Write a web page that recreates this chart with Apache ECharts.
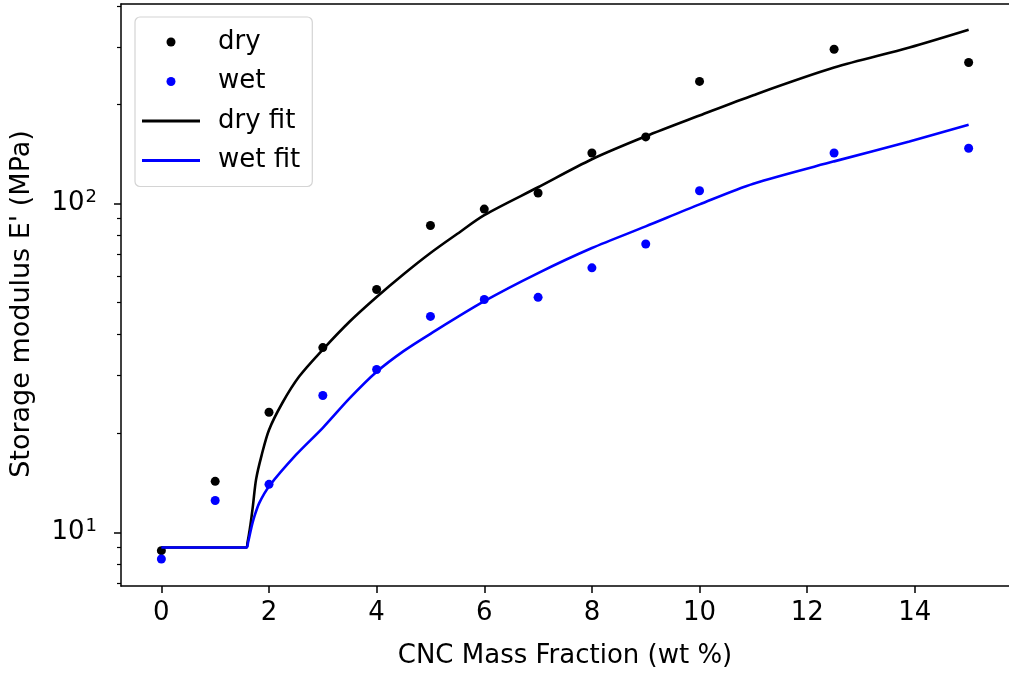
<!DOCTYPE html>
<html>
<head>
<meta charset="utf-8">
<script src="https://cdn.jsdelivr.net/npm/echarts@6/dist/echarts.min.js"></script>
<style>
  html, body { margin: 0; padding: 0; background: #ffffff; }
  #chart { width: 1009px; height: 674px; }
</style>
</head>
<body>
<div id="chart"></div>
<script>
// Measured storage modulus (MPa) against CNC loading (wt %)
const massFraction = [0, 1, 2, 3, 4, 5, 6, 7, 8, 9, 10, 12.5, 15];
const dryModulus = [8.8, 14.3, 23.2, 36.5, 54.8, 85.8, 96.3, 107.8, 142.6, 159.6, 235.5, 295, 268.9];
const wetModulus = [8.3, 12.5, 14.0, 26.1, 31.3, 45.4, 51.1, 51.9, 63.8, 75.4, 109.5, 142.6, 147.5];

// Percolation-model fit curves
const dryFitX = [0, 1.58, 1.60, 1.62, 1.65, 1.70, 1.76, 1.86, 2.0, 2.25, 2.56, 3.0, 3.5, 4.0, 4.5, 5.0, 5.5, 6.0, 7.0, 8.0, 9.0, 10.0, 11.0, 12.5, 13.9, 15];
const dryFitY = [9.0, 9.0, 9.3, 9.7, 10.4, 12.0, 14.5, 17.1, 20.5, 24.8, 29.8, 36.0, 43.8, 52.0, 61.0, 70.8, 81.0, 92.3, 112.2, 136.5, 160.3, 185.4, 213.8, 259.4, 298.5, 338];
const wetFitX = [0, 1.58, 1.61, 1.67, 1.73, 1.82, 2.0, 2.5, 3.0, 3.5, 4.0, 4.5, 5.0, 6.0, 7.0, 8.0, 9.0, 10.0, 11.0, 12.5, 13.9, 15];
const wetFitY = [9.0, 9.0, 9.3, 10.3, 11.2, 12.3, 13.8, 17.2, 20.8, 25.6, 30.8, 35.6, 40.2, 50.5, 61.5, 73.3, 85.3, 99.5, 115.0, 134.5, 154.6, 173.8];

// Axis ticks
const xTicks = [0, 2, 4, 6, 8, 10, 12, 14];
const yMajorTicks = [10, 100];
const yMinorTicks = [7, 8, 9, 20, 30, 40, 50, 60, 70, 80, 90, 200, 300, 400];

const FONT = 'DejaVu Sans';
const FS = 26;
const X_MIN = -0.75, X_MAX = 15.75;
const Y_MIN = 6.87, Y_MAX = 405;

const pairs = (xs, ys) => xs.map((x, i) => [x, ys[i]]);

const chart = echarts.init(document.getElementById('chart'), null, { renderer: 'canvas' });

chart.setOption({
  backgroundColor: '#ffffff',
  animation: false,
  grid: { left: 121, top: 4, right: -8, bottom: 87, containLabel: false },
  legend: {
    orient: 'vertical',
    left: 135,
    top: 17,
    padding: [10, 12, 11, 7],
    itemWidth: 58,
    itemHeight: 9,
    itemGap: 9.5,
    backgroundColor: '#ffffff',
    borderColor: '#d4d4d4',
    borderWidth: 1.2,
    borderRadius: 5,
    selectedMode: false,
    textStyle: { fontFamily: FONT, fontSize: FS, color: '#000', lineHeight: 30, padding: [0, 0, 0, 13] },
    data: [
      { name: 'dry', icon: 'circle' },
      { name: 'wet', icon: 'circle' },
      { name: 'dry fit', icon: 'path://M0,0H58V3H0Z' },
      { name: 'wet fit', icon: 'path://M0,0H58V3H0Z' }
    ]
  },
  xAxis: [
    {
      type: 'value',
      position: 'bottom',
      min: X_MIN, max: X_MAX,
      name: 'CNC Mass Fraction (wt %)',
      nameLocation: 'middle',
      nameGap: 57,
      nameTextStyle: { fontFamily: FONT, fontSize: FS, color: '#000' },
      axisLine: { show: true, onZero: false, lineStyle: { color: '#000', width: 1.5 } },
      axisTick: { show: true, length: 7, lineStyle: { color: '#000', width: 1.5 }, customValues: xTicks },
      axisLabel: { show: true, margin: 14, fontFamily: FONT, fontSize: FS, color: '#000', customValues: xTicks },
      splitLine: { show: false }
    },
    {
      type: 'value',
      position: 'top',
      min: X_MIN, max: X_MAX,
      axisLine: { show: true, onZero: false, lineStyle: { color: '#000', width: 1.5 } },
      axisTick: { show: false },
      axisLabel: { show: false },
      splitLine: { show: false }
    }
  ],
  yAxis: [
    {
      type: 'log',
      logBase: 10,
      position: 'left',
      min: Y_MIN, max: Y_MAX,
      name: "Storage modulus E' (MPa)",
      nameLocation: 'middle',
      nameGap: 86,
      nameTextStyle: { fontFamily: FONT, fontSize: 27, color: '#000', padding: [0, 18, 0, 0] },
      axisLine: { show: true, onZero: false, lineStyle: { color: '#000', width: 1.5 } },
      axisTick: { show: true, length: 7, lineStyle: { color: '#000', width: 1.5 }, customValues: yMajorTicks },
      axisLabel: {
        show: true,
        margin: 24,
        customValues: yMajorTicks,
        formatter: v => '{b|10}{s|' + Math.round(Math.log10(v)) + '}',
        rich: {
          b: { fontFamily: FONT, fontSize: FS, color: '#000' },
          s: { fontFamily: FONT, fontSize: 18, color: '#000', padding: [0, 0, 12, 1] }
        }
      },
      splitLine: { show: false }
    },
    {
      type: 'log',
      logBase: 10,
      position: 'left',
      min: Y_MIN, max: Y_MAX,
      axisLine: { show: false, onZero: false },
      axisTick: { show: true, length: 4, lineStyle: { color: '#000', width: 1.2 }, customValues: yMinorTicks },
      axisLabel: { show: false },
      splitLine: { show: false }
    }
  ],
  series: [
    {
      name: 'dry', type: 'scatter', symbol: 'circle', symbolSize: 9,
      color: '#000000',
      itemStyle: { color: '#000000', opacity: 1 },
      data: pairs(massFraction, dryModulus)
    },
    {
      name: 'wet', type: 'scatter', symbol: 'circle', symbolSize: 9,
      color: '#0000ff',
      itemStyle: { color: '#0000ff', opacity: 1 },
      data: pairs(massFraction, wetModulus)
    },
    {
      name: 'dry fit', type: 'line', showSymbol: false, symbol: 'none',
      smooth: 0.3,
      color: '#000000',
      lineStyle: { color: '#000000', width: 2.6 },
      data: pairs(dryFitX, dryFitY)
    },
    {
      name: 'wet fit', type: 'line', showSymbol: false, symbol: 'none',
      smooth: 0.3,
      color: '#0000ff',
      lineStyle: { color: '#0000ff', width: 2.6 },
      data: pairs(wetFitX, wetFitY)
    }
  ]
});
</script>
</body>
</html>
